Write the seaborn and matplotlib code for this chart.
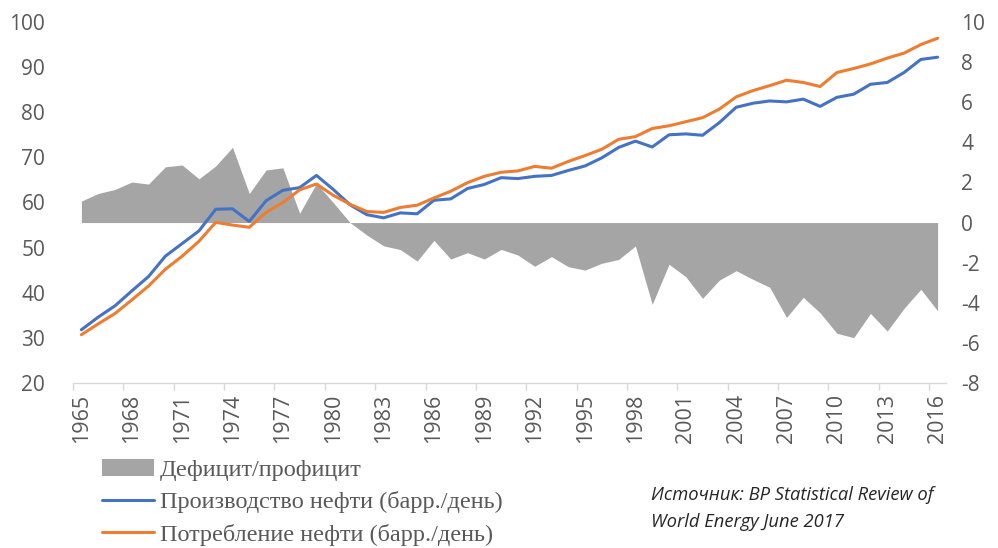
import matplotlib
matplotlib.use("Agg")
import matplotlib.pyplot as plt
import seaborn as sns
import numpy as np
from matplotlib.patches import Patch
from matplotlib.lines import Line2D

years = list(range(1965, 2017))

production = [31.8, 34.6, 37.1, 40.4, 43.6, 48.1, 50.9, 53.7, 58.5, 58.6,
              55.8, 60.4, 62.7, 63.3, 66.0, 62.9, 59.5, 57.3, 56.6, 57.7,
              57.5, 60.5, 60.8, 63.1, 64.0, 65.5, 65.3, 65.8, 66.0, 67.1,
              68.1, 69.9, 72.2, 73.6, 72.3, 75.0, 75.2, 74.9, 77.7, 81.1,
              82.0, 82.5, 82.3, 82.9, 81.3, 83.3, 84.0, 86.2, 86.6, 88.8,
              91.7, 92.2]

consumption = [30.7, 33.1, 35.4, 38.4, 41.5, 45.2, 48.1, 51.4, 55.6, 55.0,
               54.5, 57.8, 60.0, 62.8, 64.1, 61.6, 59.6, 58.0, 57.8, 58.9,
               59.4, 61.0, 62.5, 64.4, 65.8, 66.7, 67.0, 68.0, 67.6, 69.1,
               70.4, 71.8, 74.0, 74.6, 76.4, 77.0, 77.9, 78.8, 80.7, 83.4,
               84.8, 85.9, 87.1, 86.6, 85.7, 88.8, 89.7, 90.7, 92.0, 93.1,
               95.0, 96.4]

balance = [1.07, 1.45, 1.65, 2.02, 1.92, 2.78, 2.87, 2.18, 2.82, 3.75,
           1.45, 2.62, 2.73, 0.46, 1.95, 1.0, 0.0, -0.62, -1.16, -1.35,
           -1.92, -0.89, -1.82, -1.5, -1.82, -1.34, -1.62, -2.18, -1.7, -2.2,
           -2.37, -2.03, -1.84, -1.17, -4.08, -2.08, -2.7, -3.78, -2.87, -2.4,
           -2.83, -3.23, -4.73, -3.73, -4.5, -5.52, -5.74, -4.53, -5.41, -4.28,
           -3.33, -4.4]

left_ticks = [20, 30, 40, 50, 60, 70, 80, 90, 100]
right_ticks = [-8, -6, -4, -2, 0, 2, 4, 6, 8, 10]
label_years = years[::3]

legend_labels = ["Дефицит/профицит",
                 "Производство нефти (барр./день)",
                 "Потребление нефти (барр./день)"]
source_lines = ["Источник: BP Statistical Review of", "World Energy June 2017"]

C_BLUE = "#4472C4"
C_ORANGE = "#ED7D31"
C_GRAY = "#A5A5A5"
C_TXT = "#595959"
C_AX = "#D9D9D9"

sns.set_theme(style="white")
plt.rcParams["font.family"] = ["Open Sans", "DejaVu Sans"]

fig = plt.figure(figsize=(9.98, 5.48), dpi=100)
ax = fig.add_axes([73/998, 1-383/548, 873/998, 361/548])
ax2 = ax.twinx()

# area on primary (right scale), lines on twin (left scale)
ax.fill_between(years, balance, 0, color=C_GRAY, linewidth=0, zorder=1)
sns.lineplot(x=years, y=production, ax=ax2, color=C_BLUE, linewidth=2.2)
sns.lineplot(x=years, y=consumption, ax=ax2, color=C_ORANGE, linewidth=2.2)

ax.set_xlim(1964.5, 2016.5)
ax.set_ylim(-8, 10)
ax2.set_ylim(20, 100)

ax.yaxis.tick_right()
ax.set_yticks(right_ticks)
ax.set_yticklabels([str(t) for t in right_ticks])
ax2.yaxis.tick_left()
ax2.set_yticks(left_ticks)
ax2.set_yticklabels([str(t) for t in left_ticks])

ax.set_xticks(label_years)
ax.set_xticklabels([str(y) for y in label_years], rotation=90)
ax.set_xticks([y - 0.5 for y in label_years], minor=True)

ax.tick_params(axis="x", which="major", length=0, pad=8, labelsize=15.5, labelcolor=C_TXT)
ax.tick_params(axis="x", which="minor", length=5, width=1, color=C_AX, bottom=True)
ax.tick_params(axis="y", length=0, pad=11, labelsize=15, labelcolor=C_TXT)
ax2.tick_params(axis="y", length=0, pad=20, labelsize=15, labelcolor=C_TXT)
for lab in ax2.get_yticklabels():
    lab.set_horizontalalignment("right")

for s in ax.spines.values():
    s.set_visible(False)
for s in ax2.spines.values():
    s.set_visible(False)
ax.spines["bottom"].set_visible(True)
ax.spines["bottom"].set_color(C_AX)
ax.spines["bottom"].set_linewidth(1)
ax.grid(False)
ax2.grid(False)
ax.set_xlabel("")
ax.set_ylabel("")
ax2.set_xlabel("")
ax2.set_ylabel("")

handles = [Patch(facecolor=C_GRAY, edgecolor="none"),
           Line2D([], [], color=C_BLUE, linewidth=2.2),
           Line2D([], [], color=C_ORANGE, linewidth=2.2)]
fig.legend(handles, legend_labels, loc="upper left",
           bbox_to_anchor=(102/998, 1-459/548), frameon=False,
           prop={"family": "Liberation Serif", "size": 17.5},
           labelcolor=C_TXT, handlelength=2.15, handletextpad=0.22,
           labelspacing=0.43, borderpad=0, borderaxespad=0)

fig.text(651/998, 1-495/548, source_lines[0], fontsize=13.2, style="italic",
         color="#262626", va="center", ha="left")
fig.text(651/998, 1-522/548, source_lines[1], fontsize=13.2, style="italic",
         color="#262626", va="center", ha="left")

fig.savefig("out.png", dpi=100)
